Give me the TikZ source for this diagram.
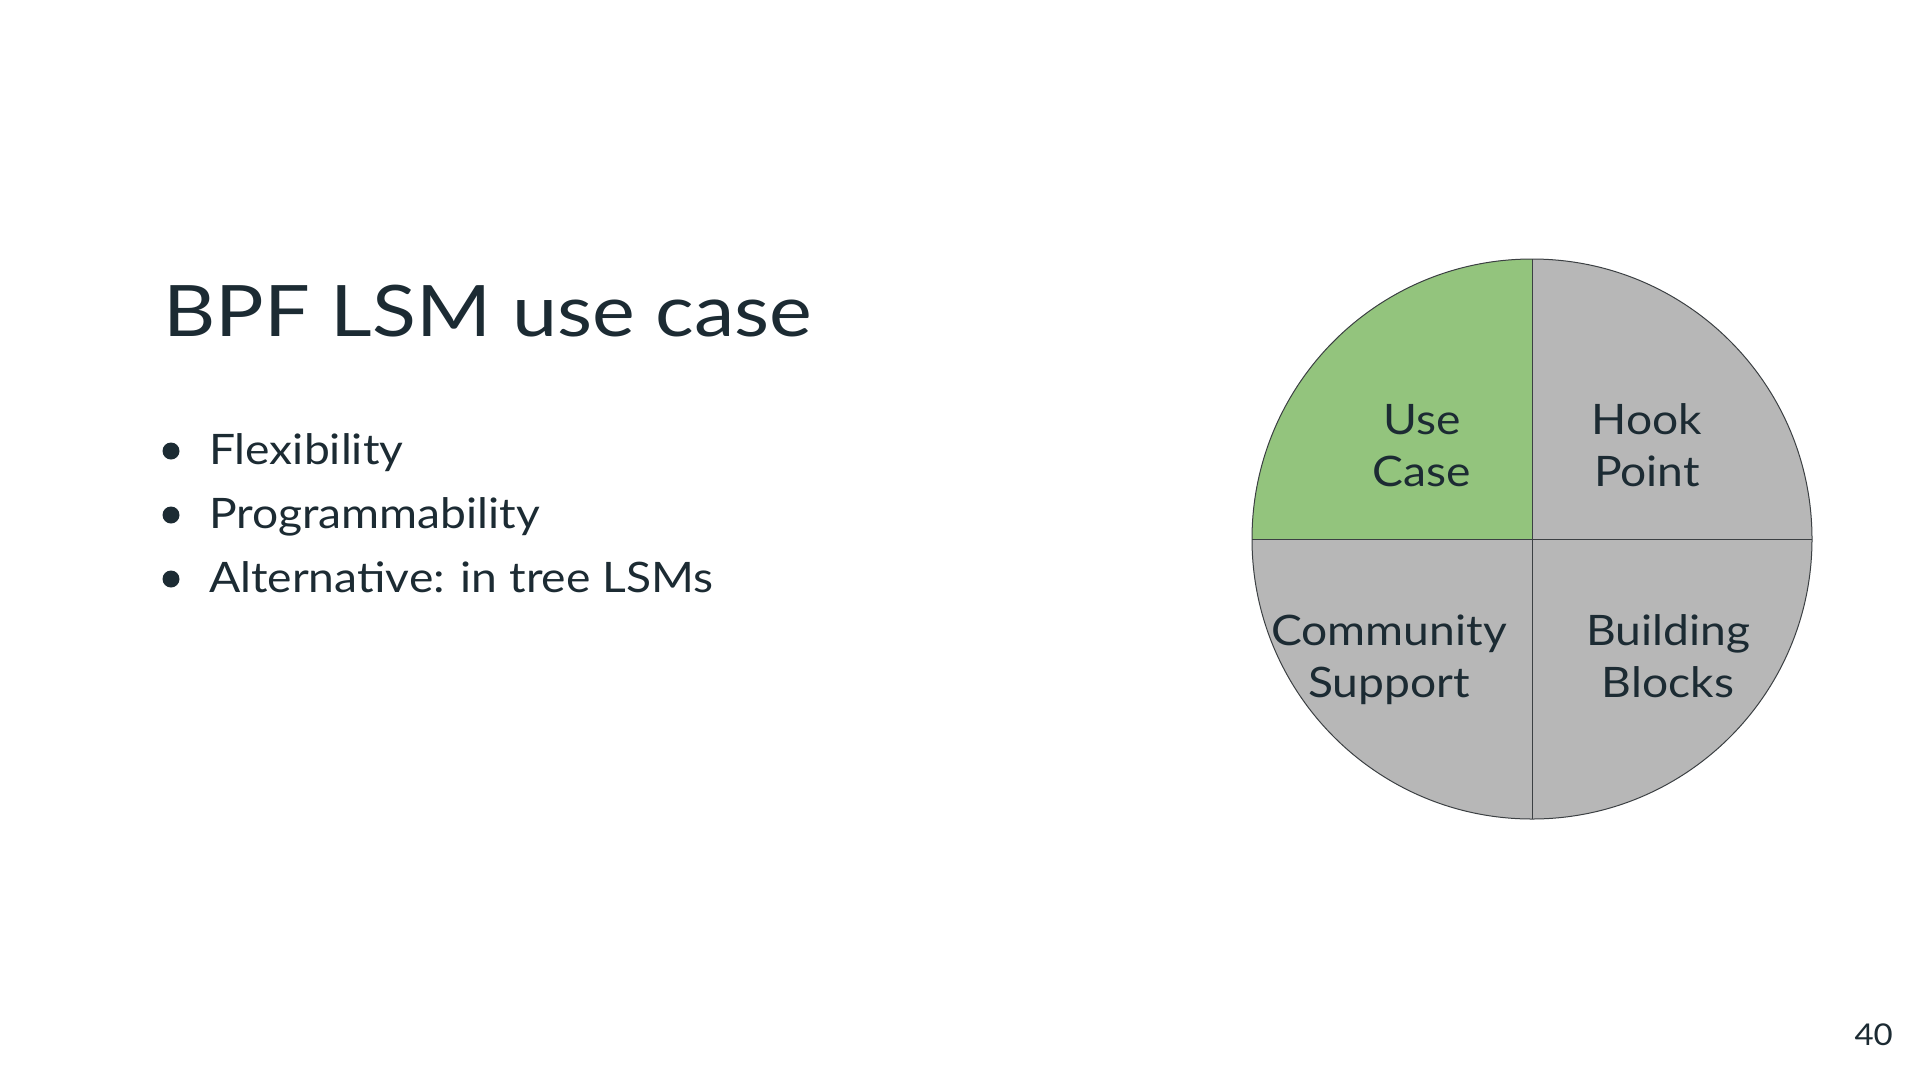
\documentclass[tikz,border=0pt]{standalone}
\usepackage{fontspec}
\setmainfont{Lato}[FakeStretch=1.1]
\newfontfamily\titlefont{Lato}[FakeStretch=1.14]
\definecolor{ink}{HTML}{1C2B33}
\definecolor{usegreen}{HTML}{93C47D}
\definecolor{slicegray}{HTML}{B7B7B7}
\definecolor{edge}{HTML}{3C4043}
\begin{document}
\begin{tikzpicture}[x=1pt,y=-1pt,
  slice/.style={draw=edge,line width=1pt},
  lbl/.style={align=center,text=ink,font=\fontsize{42}{52}\selectfont,inner sep=0pt,anchor=base},
  bullettext/.style={anchor=base west,text=ink,font=\fontsize{42}{46}\selectfont,inner sep=0pt},
  dot/.style={circle,fill=ink,inner sep=0pt,minimum size=17pt}]
\useasboundingbox[fill=white] (0,0) rectangle (1920,1080);
\node[anchor=base west,text=ink,font=\titlefont\fontsize{71}{80}\selectfont,inner sep=0pt] (title) at (163,336) {BPF LSM use case};
\node[bullettext] (b1) at (209,464) {Flexibility};
\node[bullettext] (b2) at (209,528) {Programmability};
\node[bullettext] (b3) at (209,592) {Alternative: in tree LSMs};
\node[dot] (d1) at (171,451) {};
\node[dot] (d2) at (171,515) {};
\node[dot] (d3) at (171,579) {};
\coordinate (c) at (1532,539);
\fill[slicegray] (c) circle[radius=280];
\fill[usegreen] (c) -- (1252,539) arc[start angle=180,end angle=270,radius=280] -- cycle;
\draw[slice] (c) circle[radius=280];
\draw[slice] (1532,259) -- (1532,819);
\draw[slice] (1252,539) -- (1812,539);
\node[lbl] (uc) at (1422,486) {Use\\Case};
\node[lbl] (hp) at (1647,486) {Hook\\Point};
\node[lbl] (cs) at (1389,697) {Community\\Support};
\node[lbl] (bb) at (1668,697) {Building\\Blocks};
\node[anchor=base east,text=ink,font=\fontsize{30}{32}\selectfont,inner sep=0pt] (pg) at (1893,1045) {40};
\end{tikzpicture}
\end{document}
